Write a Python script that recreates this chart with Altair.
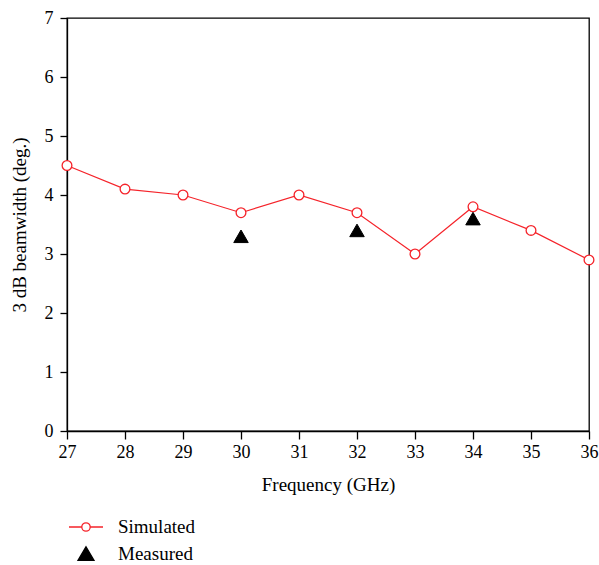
import altair as alt
import pandas as pd

freq_sim = [27, 28, 29, 30, 31, 32, 33, 34, 35, 36]
bw_sim = [4.5, 4.1, 4.0, 3.7, 4.0, 3.7, 3.0, 3.8, 3.4, 2.9]
freq_meas = [30, 32, 34]
bw_meas = [3.3, 3.4, 3.6]
series_names = ["Simulated", "Measured"]

x_ticks = [27 + 0.5 * i for i in range(19)]
y_ticks = [0.5 * i for i in range(15)]

RED = "#f5232a"
FONT = "Liberation Serif"
LABEL_EXPR = "datum.value % 1 ? '' : format(datum.value, 'd')"

sim = pd.DataFrame({"f": freq_sim, "bw": bw_sim, "series": "Simulated"})
meas = pd.DataFrame({"f": freq_meas, "bw": bw_meas, "series": "Measured"})
pts = pd.concat([sim, meas], ignore_index=True)

x_enc = alt.X(
    "f:Q",
    scale=alt.Scale(domain=[27, 36], nice=False, zero=False),
    axis=alt.Axis(
        title="Frequency (GHz)",
        values=x_ticks,
        labelExpr=LABEL_EXPR,
        labelFlush=False,
        tickSize={"condition": {"test": "datum.value % 1 !== 0", "value": 4}, "value": 8},
        labelPadding=4,
        titlePadding=14,
    ),
)
y_enc = alt.Y(
    "bw:Q",
    scale=alt.Scale(domain=[0, 7], nice=False),
    axis=alt.Axis(
        title="3 dB beamwidth (deg.)",
        values=y_ticks,
        labelExpr=LABEL_EXPR,
        labelFlush=False,
        tickSize={"condition": {"test": "datum.value % 1 !== 0", "value": 4}, "value": 7},
        labelPadding=7,
        titlePadding=15,
    ),
)

line = alt.Chart(sim).mark_line(color=RED, strokeWidth=1.2).encode(x=x_enc, y=y_enc)

sim_pts = alt.Chart(sim).mark_point(
    shape="circle", filled=True, fill="white", stroke=RED, strokeWidth=1.3, size=95, opacity=1
).encode(x="f:Q", y="bw:Q")

meas_pts = alt.Chart(meas).mark_point(
    shape="triangle-up", filled=True, fill="black", stroke="black", strokeWidth=1, size=210, opacity=1
).encode(x="f:Q", y="bw:Q")

legend_path_sim = "M-1.7,0H-0.42M0.42,0H1.7M0.42,0A0.42,0.42 0 1,1 -0.42,0A0.42,0.42 0 1,1 0.42,0Z"
legend_path_meas = "M0,-0.72L0.8,0.64L-0.8,0.64Z"

leg = alt.Legend(
    title=None,
    orient="none",
    legendX=8,
    legendY=498,
    padding=0,
    symbolSize=400,
    symbolStrokeWidth=1.3,
    symbolOpacity=1,
    labelOffset=21,
    rowPadding=6,
    labelFont=FONT,
    labelFontSize=19,
    labelColor="black",
)

legend_layer = alt.Chart(pts).mark_point(filled=True, opacity=0).encode(
    x="f:Q",
    y="bw:Q",
    shape=alt.Shape(
        "series:N",
        scale=alt.Scale(domain=series_names, range=[legend_path_sim, legend_path_meas]),
        legend=leg,
    ),
    fill=alt.Fill("series:N", scale=alt.Scale(domain=series_names, range=["white", "black"]), legend=leg),
    stroke=alt.Stroke("series:N", scale=alt.Scale(domain=series_names, range=[RED, "black"]), legend=leg),
)

chart = (
    alt.layer(line, sim_pts, meas_pts, legend_layer)
    .properties(
        width=522,
        height=413,
        autosize=alt.AutoSizeParams(type="none"),
        padding={"left": 67, "top": 18, "right": 10, "bottom": 134},
        background="white",
    )
    .configure_view(stroke="black", strokeWidth=1.3)
    .configure_axis(
        domainColor="black",
        domainWidth=1.3,
        tickColor="black",
        tickWidth=1.3,
        grid=False,
        labelFont=FONT,
        labelFontSize=18,
        labelColor="black",
        titleFont=FONT,
        titleFontSize=19,
        titleFontWeight="normal",
        titleColor="black",
    )
)

chart.save("out.html", embed_options={"renderer": "svg", "actions": False})
